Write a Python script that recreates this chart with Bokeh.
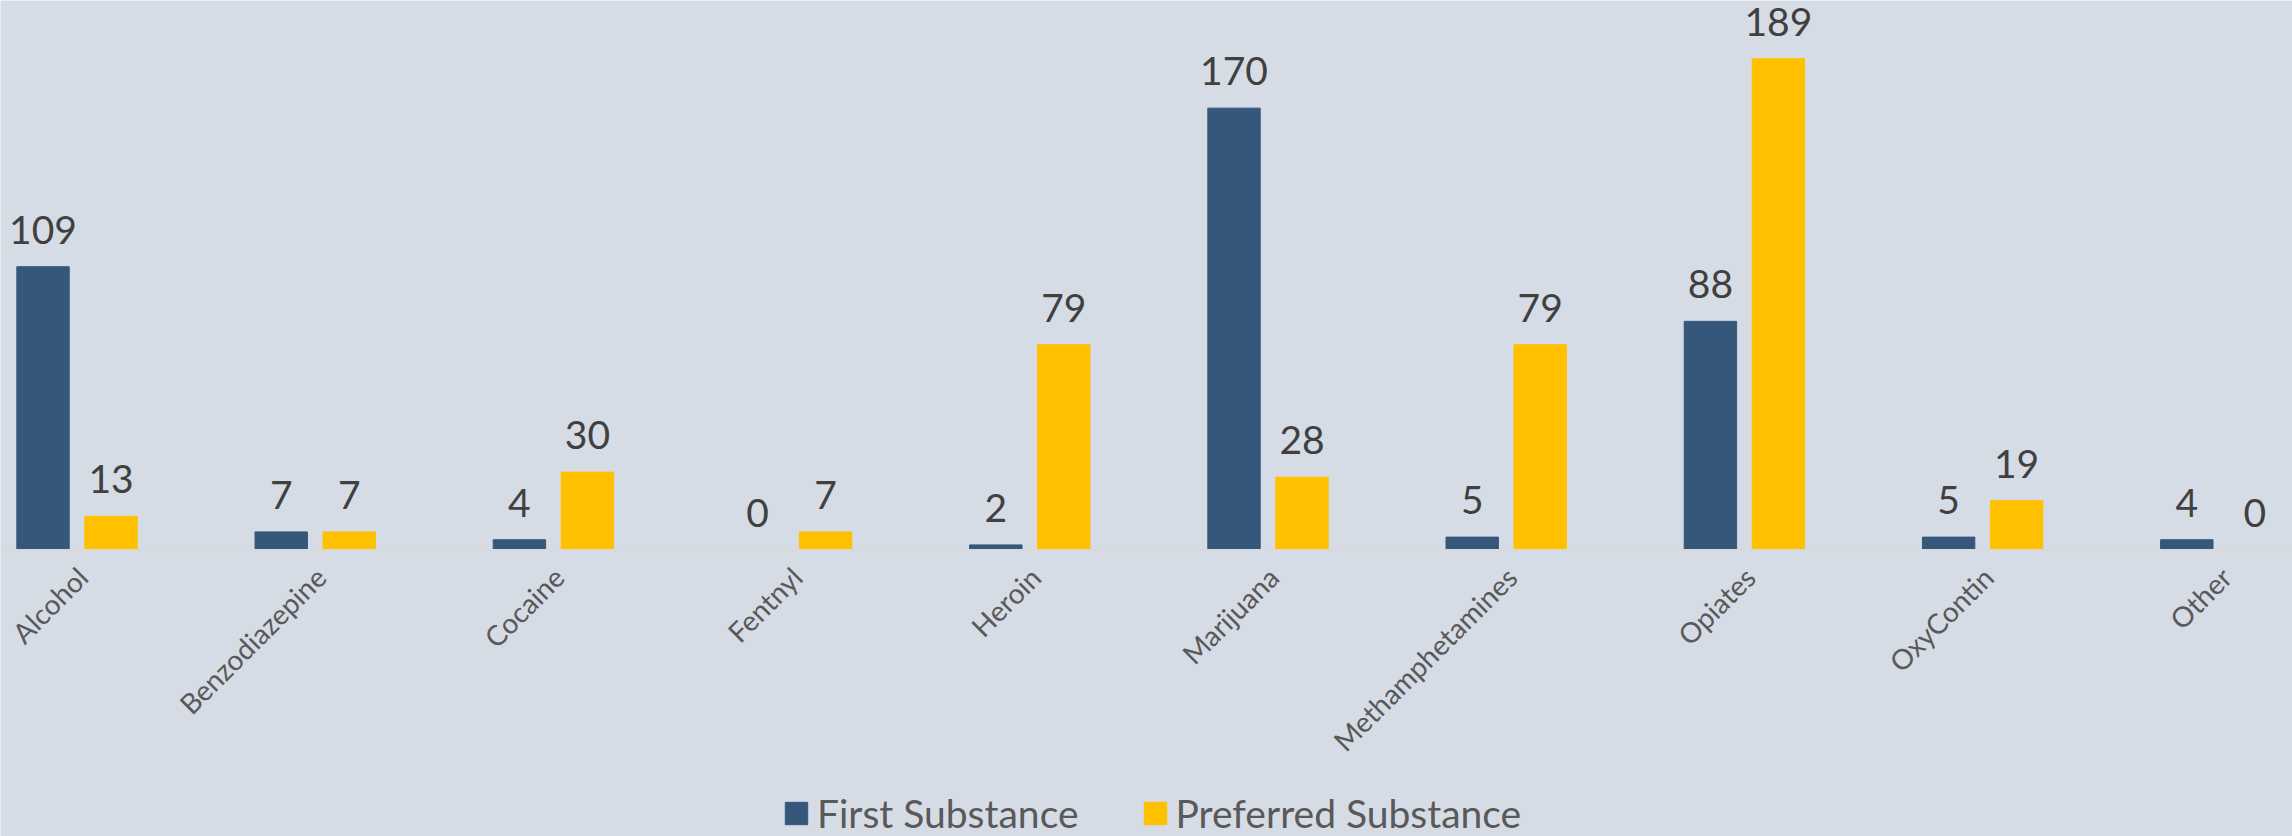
import math
from bokeh.plotting import figure
from bokeh.models import ColumnDataSource, Range1d, Legend, LegendItem, Span
from bokeh.transform import dodge
from bokeh.core.properties import value
from bokeh.embed import file_html
from bokeh.resources import INLINE

categories = ["Alcohol", "Benzodiazepine", "Cocaine", "Fentnyl", "Heroin",
              "Marijuana", "Methamphetamines", "Opiates", "OxyContin", "Other"]
first_substance = [109, 7, 4, 0, 2, 170, 5, 88, 5, 4]
preferred_substance = [13, 7, 30, 7, 79, 28, 79, 189, 19, 0]

BG = "#D6DCE5"
BLUE = "#36577C"
GOLD = "#FFC000"
FONT = value("Lato")

src = ColumnDataSource(dict(
    x=list(range(len(categories))),
    cat=categories,
    zero=[0] * len(categories),
    first=first_substance,
    pref=preferred_substance,
    first_lbl=[str(v) for v in first_substance],
    pref_lbl=[str(v) for v in preferred_substance],
))

p = figure(width=2292, height=836, output_backend="svg", toolbar_location=None,
           x_range=Range1d(-0.3212, 9.301), y_range=Range1d(-110.15, 211.4),
           min_border_left=0, min_border_right=0, min_border_top=0,
           min_border_bottom=0)
p.background_fill_color = BG
p.border_fill_color = BG
p.outline_line_color = None
p.grid.visible = False
p.xaxis.visible = False
p.yaxis.visible = False

# category baseline
p.add_layout(Span(location=0, dimension="width", line_color="#D9D9D9",
                  line_width=2))

off = 0.1427
bw = 0.22
r1 = p.vbar(x=dodge("x", -off), top="first", width=bw, bottom=0, source=src,
            fill_color=BLUE, line_color=BLUE)
r2 = p.vbar(x=dodge("x", off), top="pref", width=bw, bottom=0, source=src,
            fill_color=GOLD, line_color=GOLD)

p.text(x=dodge("x", -off), y="first", text="first_lbl", source=src,
       text_font=FONT, text_font_size="39px", text_color="#404040",
       text_align="center", text_baseline="alphabetic", y_offset=-37)
p.text(x=dodge("x", off), y="pref", text="pref_lbl", source=src,
       text_font=FONT, text_font_size="39px", text_color="#404040",
       text_align="center", text_baseline="alphabetic", y_offset=-37)

# rotated category labels
p.text(x=dodge("x", -0.028), y="zero", text="cat", source=src,
       angle=math.pi / 4, text_font=FONT, text_font_size="28px",
       text_color="#595959", text_align="right", text_baseline="top",
       y_offset=10)

legend = Legend(items=[LegendItem(label="First Substance", renderers=[r1]),
                       LegendItem(label="Preferred Substance", renderers=[r2])],
                orientation="horizontal", location=(782, 0),
                background_fill_alpha=0, border_line_color=None,
                label_text_font="Lato", label_text_font_size="39px",
                label_text_color="#595959", glyph_width=28, glyph_height=28,
                label_standoff=7, spacing=62, padding=0, margin=0)
p.add_layout(legend, "center")

open("out.html", "w").write(file_html(p, INLINE))
